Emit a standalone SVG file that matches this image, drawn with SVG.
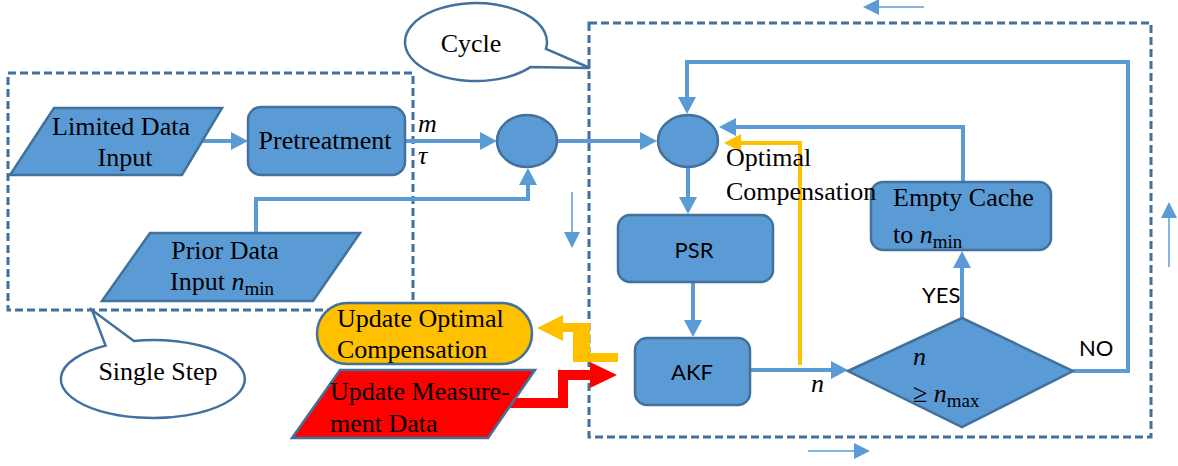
<svg xmlns="http://www.w3.org/2000/svg" width="1178" height="466" viewBox="0 0 1178 466">
  <style>
    .node { fill: #5B9BD5; stroke: #41719C; stroke-width: 2.5; }
    .frame { fill: none; stroke: #41719C; stroke-width: 3; stroke-dasharray: 8 4; }
    .callout { fill: #FFFFFF; stroke: #41719C; stroke-width: 2.5; }
    .conn { fill: none; stroke: #5B9BD5; stroke-width: 4; }
    .thin { fill: none; stroke: #5B9BD5; stroke-width: 1.5; }
    .serif { font-family: "Liberation Serif", "Times New Roman", serif; font-size: 26px; fill: #000000; }
    .sans { font-family: Lato, "Liberation Sans", sans-serif; font-size: 22px; fill: #000000; }
    .it { font-style: italic; }
    .sub { font-size: 19px; font-style: normal; }
  </style>
  <defs>
    <marker id="head" markerUnits="userSpaceOnUse" viewBox="0 0 17 18" markerWidth="17" markerHeight="18" refX="13" refY="9" orient="auto">
      <path d="M0,0 L17,9 L0,18 Z" fill="#5B9BD5"/>
    </marker>
    <marker id="headY" markerUnits="userSpaceOnUse" viewBox="0 0 17 18" markerWidth="17" markerHeight="18" refX="13" refY="9" orient="auto">
      <path d="M0,0 L17,9 L0,18 Z" fill="#FFC000"/>
    </marker>
    <marker id="headThin" markerUnits="userSpaceOnUse" viewBox="0 0 16 16" markerWidth="16" markerHeight="16" refX="13" refY="8" orient="auto">
      <path d="M0,0 L16,8 L0,16 Z" fill="#5B9BD5"/>
    </marker>
  </defs>

  <rect width="1178" height="466" fill="#FFFFFF"/>

  <!-- dashed grouping frames -->
  <g id="frames">
    <rect class="frame" x="8" y="73" width="405" height="237"/>
    <rect class="frame" x="589" y="23" width="562" height="414"/>
  </g>

  <!-- direction hints around the cycle frame -->
  <g id="hints">
    <path class="thin" d="M924,7 H866" marker-end="url(#headThin)"/>
    <path class="thin" d="M572,192 V245" marker-end="url(#headThin)"/>
    <path class="thin" d="M808,451 H867" marker-end="url(#headThin)"/>
    <path class="thin" d="M1169,267 V205" marker-end="url(#headThin)"/>
  </g>

  <!-- connectors -->
  <g id="connectors">
    <path class="conn" d="M202,141 H244" marker-end="url(#head)"/>
    <path class="conn" d="M405,141 H493" marker-end="url(#head)"/>
    <path class="conn" d="M256,233 V199 H528 V172" marker-end="url(#head)"/>
    <path class="conn" d="M558,141 H653" marker-end="url(#head)"/>
    <path class="conn" d="M1073,371 H1128 V62 H687 V110" marker-end="url(#head)"/>
    <path class="conn" d="M963,182 V127 H723" marker-end="url(#head)"/>
    <path class="conn" d="M688,167 V210" marker-end="url(#head)"/>
    <path class="conn" d="M693,282 V333" marker-end="url(#head)"/>
    <path class="conn" d="M750,370 H844" marker-end="url(#head)"/>
    <path class="conn" d="M962,318 V255" marker-end="url(#head)"/>
    <path class="conn" d="M800,365 V143 H728" style="stroke:#FFC000" marker-end="url(#headY)"/>
    <!-- bent block arrows -->
    <polygon points="563,323 590,323 590,353 618,353 618,362 573,362 573,332 563,332" fill="#FFC000"/>
    <polygon points="537,328 563,315 563,341" fill="#FFC000"/>
    <polygon points="510,398 558,398 558,370 590,370 590,380 568,380 568,408 510,408" fill="#FF0000"/>
    <polygon points="590,362 617,375 590,388" fill="#FF0000"/>
  </g>

  <!-- callouts -->
  <g id="cycle-callout">
    <path class="callout" d="M545.9,48.8 L590,68 L530.4,67.1 A71,39 0 1,1 545.9,48.8 Z"/>
    <text class="serif" x="471" y="52" text-anchor="middle">Cycle</text>
  </g>
  <g id="single-step-callout">
    <path class="callout" d="M105.6,345.6 L92,310 L133.9,340.9 A92,39 0 1,1 105.6,345.6 Z"/>
    <text class="serif" x="158" y="380" text-anchor="middle">Single Step</text>
  </g>

  <!-- nodes -->
  <g id="limited-data-input">
    <polygon class="node" points="54,108 222,108 182,175 10,175"/>
    <text class="serif" x="121" y="135" text-anchor="middle">Limited Data</text>
    <text class="serif" x="125" y="166" text-anchor="middle">Input</text>
  </g>
  <g id="pretreatment">
    <rect class="node" x="248" y="107" width="157" height="68" rx="13"/>
    <text class="serif" x="325" y="149" text-anchor="middle">Pretreatment</text>
  </g>
  <g id="params">
    <text class="serif it" x="418" y="132">m</text>
    <text class="serif it" x="418" y="164">τ</text>
  </g>
  <g id="prior-data-input">
    <polygon class="node" points="150,233 360,233 313,301 102,301"/>
    <text class="serif" x="225" y="259" text-anchor="middle">Prior Data</text>
    <text class="serif" x="170" y="290">Input <tspan class="it">n</tspan><tspan class="sub" dy="5">min</tspan></text>
  </g>
  <g id="merge-input">
    <ellipse class="node" cx="527" cy="141" rx="30" ry="26"/>
  </g>
  <g id="merge-cycle">
    <ellipse class="node" cx="688" cy="141" rx="30" ry="26"/>
  </g>
  <g id="psr">
    <rect class="node" x="618" y="215" width="155" height="67" rx="12"/>
    <text class="sans" x="694" y="258" text-anchor="middle">PSR</text>
  </g>
  <g id="akf">
    <rect class="node" x="635" y="338" width="115" height="67" rx="12"/>
    <text class="sans" x="692" y="380" text-anchor="middle">AKF</text>
  </g>
  <g id="n-label">
    <text class="serif it" x="811" y="392">n</text>
  </g>
  <g id="empty-cache">
    <rect class="node" x="871" y="182" width="180" height="68" rx="12"/>
    <text class="serif" x="893" y="206">Empty Cache</text>
    <text class="serif" x="893" y="243">to <tspan class="it">n</tspan><tspan class="sub" dy="5">min</tspan></text>
  </g>
  <g id="optimal-compensation-label">
    <text class="serif" x="726" y="166">Optimal</text>
    <text class="serif" x="726" y="200">Compensation</text>
  </g>
  <g id="threshold-check">
    <polygon class="node" points="848,371 962,318 1073,371 962,427"/>
    <text class="serif it" x="913" y="365">n</text>
    <text class="serif" x="913" y="402">≥ <tspan class="it">n</tspan><tspan class="sub" dy="5">max</tspan></text>
  </g>
  <g id="branch-labels">
    <text class="sans" x="922" y="303">YES</text>
    <text class="sans" x="1079" y="356">NO</text>
  </g>
  <g id="update-optimal-compensation">
    <rect x="317" y="303" width="215" height="61" rx="30.5" fill="#FFC000" stroke="#41719C" stroke-width="2.5"/>
    <text class="serif" x="337" y="327">Update Optimal</text>
    <text class="serif" x="337" y="358">Compensation</text>
  </g>
  <g id="update-measurement-data">
    <polygon points="340,370 535,370 488,438 292,438" fill="#FF0000" stroke="#41719C" stroke-width="2.5"/>
    <text class="serif" x="330" y="400" fill="#1a0000">Update Measure-</text>
    <text class="serif" x="330" y="432" fill="#1a0000">ment Data</text>
  </g>
</svg>
